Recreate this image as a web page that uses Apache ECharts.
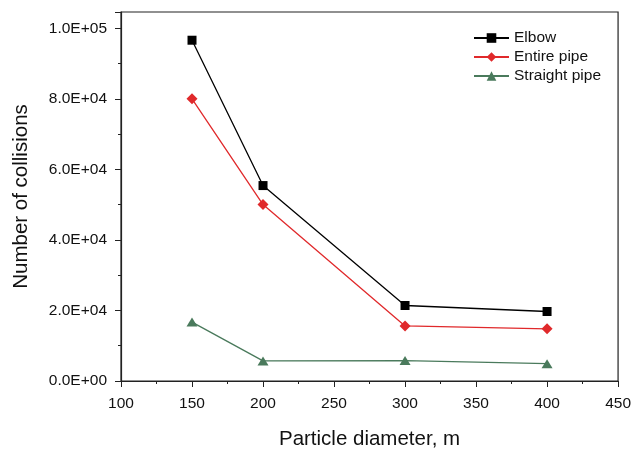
<!DOCTYPE html>
<html><head><meta charset="utf-8">
<script src="https://cdn.jsdelivr.net/npm/echarts@6/dist/echarts.min.js"></script>
<style>html,body{margin:0;padding:0;background:#fff}#c{width:634px;height:455px}</style>
</head><body><div id="c"></div>
<script>
const diameters = [150, 200, 300, 400];
const elbow = [96600, 55400, 21400, 19700];
const entirePipe = [80000, 50000, 15600, 14800];
const straightPipe = [16700, 5700, 5800, 4900];
const seriesNames = ['Elbow', 'Entire pipe', 'Straight pipe'];
const colors = ['#000000', '#E0292B', '#4A7A5C'];

function pairs(v){ return diameters.map((d,i)=>[d, v[i]]); }
const font = 'Liberation Sans, Arial, sans-serif';
const chart = echarts.init(document.getElementById('c'), null, {renderer:'canvas'});
chart.setOption({
  animation:false,
  backgroundColor:'#fff',
  grid:{left:121, right:12, top:12, bottom:72, show:true, borderColor:'#222', borderWidth:1.2, backgroundColor:'transparent'},
  legend:{
    orient:'vertical', left:468, top:25, itemWidth:35, itemHeight:12, itemGap:3,
    textStyle:{fontFamily:font, fontSize:15.5, color:'#111'},
    data:seriesNames
  },
  xAxis:{
    type:'value', min:100, max:450, interval:50,
    name:'Particle diameter, m', nameLocation:'middle', nameGap:48,
    nameTextStyle:{fontFamily:font, fontSize:20.5, color:'#111'},
    axisLine:{show:true, onZero:false, lineStyle:{color:'#222', width:1.2}},
    axisTick:{show:true, inside:false, length:6, lineStyle:{color:'#222'}},
    minorTick:{show:true, splitNumber:2, length:3, lineStyle:{color:'#222'}},
    axisLabel:{fontFamily:font, fontSize:15.5, color:'#111', margin:15},
    splitLine:{show:false}
  },
  yAxis:{
    type:'value', min:0, max:104600, interval:20000,
    name:'Number of collisions', nameLocation:'middle', nameGap:89, nameRotate:90,
    nameTextStyle:{fontFamily:font, fontSize:20.5, color:'#111'},
    axisLine:{show:true, onZero:false, lineStyle:{color:'#222', width:1.2}},
    axisTick:{show:true, inside:false, length:6, lineStyle:{color:'#222'}},
    minorTick:{show:true, splitNumber:2, length:3, lineStyle:{color:'#222'}},
    axisLabel:{fontFamily:font, fontSize:15.5, color:'#111', margin:14, showMaxLabel:false,
      formatter:function(v){ if (v>100000) return ''; const e = v===0?0:Math.floor(Math.log10(v)); const m=(v/Math.pow(10,e)).toFixed(1); return m+'E+'+String(e).padStart(2,'0'); }},
    splitLine:{show:false}
  },
  series:[
    {name:seriesNames[0], type:'line', data:pairs(elbow), symbol:'rect', symbolSize:9,
      itemStyle:{color:colors[0]}, lineStyle:{color:colors[0], width:1.3}},
    {name:seriesNames[1], type:'line', data:pairs(entirePipe), symbol:'diamond', symbolSize:[11,11],
      itemStyle:{color:colors[1]}, lineStyle:{color:colors[1], width:1.3}},
    {name:seriesNames[2], type:'line', data:pairs(straightPipe), symbol:'triangle', symbolSize:[11,9],
      itemStyle:{color:colors[2]}, lineStyle:{color:colors[2], width:1.3}}
  ]
});
</script></body></html>
